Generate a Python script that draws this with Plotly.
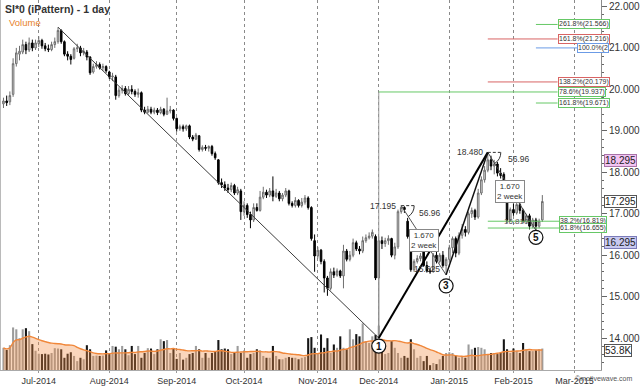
import pandas as pd
import plotly.graph_objects as go

FONT = "Liberation Sans, Arial, Helvetica, sans-serif"

# ---------------- data ----------------
holidays = ["2014-07-04", "2014-09-01", "2014-11-27", "2014-12-25",
            "2015-01-01", "2015-01-19", "2015-02-16"]
dates = pd.bdate_range("2014-06-16", "2015-02-13", freq="C", holidays=holidays)

month_ticks = ["2014-07-01", "2014-08-01", "2014-09-02", "2014-10-01", "2014-11-03",
               "2014-12-01", "2015-01-02", "2015-02-02", "2015-03-02"]
month_labels = ["Jul-2014", "Aug-2014", "Sep-2014", "Oct-2014", "Nov-2014",
                "Dec-2014", "Jan-2015", "Feb-2015", "Mar-2015"]

opens = [19.65,19.72,19.70,19.88,20.62,20.85,20.90,21.08,20.95,21.12,
         21.00,21.10,21.18,21.05,20.98,20.96,21.08,21.15,21.42,21.15,
         20.85,20.80,20.75,20.98,21.00,20.88,20.90,20.78,20.42,20.55,
         20.60,20.52,20.55,20.42,20.30,20.30,19.85,19.98,20.02,19.90,
         20.00,19.95,19.88,19.92,19.50,19.45,19.52,19.45,19.50,19.44,
         19.52,19.40,19.48,19.50,19.30,19.05,19.10,19.05,19.12,18.85,
         18.80,18.88,18.55,18.60,18.58,18.62,18.45,18.30,17.75,17.70,
         17.62,17.58,17.68,17.50,17.55,17.05,17.20,16.98,16.85,17.15,
         17.08,17.40,17.52,17.45,17.55,17.42,17.50,17.36,17.45,17.55,
         17.25,17.20,17.32,17.20,17.28,17.38,17.15,16.35,15.98,16.12,
         15.85,15.45,15.20,15.60,15.52,15.62,15.50,16.10,15.90,16.00,
         16.30,16.15,16.10,16.35,16.42,16.46,16.45,15.45,16.35,16.28,
         16.35,16.40,16.00,16.20,17.05,17.15,16.82,16.10,15.65,15.85,
         15.92,16.10,15.75,15.62,15.60,16.00,15.85,16.00,15.75,15.90,
         16.18,16.40,16.05,16.48,16.62,16.55,17.00,17.08,16.92,17.50,
         17.82,18.05,18.30,18.15,18.20,17.98,17.95,17.35,16.85,17.10,
         17.02,17.22,17.08,16.82,16.95,16.70,16.85,16.70,16.85]
highs = [19.80,19.85,19.95,20.75,21.00,21.05,21.20,21.15,21.25,21.20,
         21.20,21.28,21.22,21.12,21.08,21.15,21.25,21.50,21.45,21.18,
         20.92,20.85,21.02,21.10,21.05,21.00,20.95,20.80,20.62,20.68,
         20.65,20.62,20.58,20.45,20.40,20.35,20.05,20.10,20.08,20.08,
         20.10,20.00,20.02,19.95,19.58,19.60,19.58,19.56,19.55,19.58,
         19.55,19.80,19.60,19.52,19.32,19.15,19.15,19.15,19.15,18.90,
         18.95,18.90,18.65,18.66,18.65,18.66,18.50,18.32,17.85,17.78,
         17.72,17.75,17.72,17.65,17.60,17.30,17.25,17.05,17.25,17.25,
         17.55,17.65,17.58,17.62,17.90,17.60,17.55,17.50,17.62,17.58,
         17.30,17.40,17.35,17.38,17.45,17.42,17.18,16.50,16.20,16.15,
         15.90,15.50,15.68,15.70,15.68,15.65,16.25,16.15,16.10,16.40,
         16.35,16.22,16.45,16.50,16.55,16.62,16.50,16.45,16.45,16.42,
         16.48,16.42,16.30,17.10,17.195,17.18,16.90,16.15,15.90,16.00,
         16.05,16.15,15.85,15.70,16.05,16.08,16.05,16.10,15.95,16.25,
         16.45,16.45,16.55,16.75,16.70,17.05,17.15,17.12,17.60,17.90,
         18.15,18.48,18.40,18.30,18.25,18.10,18.00,17.40,17.15,17.25,
         17.30,17.28,17.12,17.00,17.00,16.90,16.90,16.88,17.45]
lows = [19.55,19.60,19.62,19.82,20.55,20.70,20.85,20.85,20.90,20.92,
        20.95,21.02,20.98,20.92,20.90,20.92,21.00,21.10,21.10,20.80,
        20.70,20.60,20.72,20.90,20.80,20.82,20.70,20.35,20.38,20.50,
        20.48,20.45,20.40,20.25,20.20,19.75,19.80,19.90,19.85,19.85,
        19.88,19.82,19.80,19.45,19.40,19.42,19.40,19.40,19.38,19.40,
        19.35,19.38,19.42,19.25,18.98,19.00,18.98,19.00,18.80,18.75,
        18.78,18.50,18.50,18.52,18.50,18.40,18.30,17.70,17.62,17.55,
        17.50,17.52,17.45,17.45,16.85,16.95,16.90,16.65,16.80,17.05,
        17.05,17.35,17.38,17.40,17.30,17.38,17.30,17.30,17.40,17.20,
        17.15,17.15,17.15,17.15,17.22,17.10,16.35,15.60,15.92,15.78,
        15.10,15.02,15.15,15.45,15.48,15.45,15.20,15.85,15.85,15.95,
        16.10,16.02,16.05,16.30,16.38,16.40,15.40,14.00,16.15,16.20,
        16.25,15.95,15.90,16.15,17.00,17.02,16.40,15.60,15.60,15.80,
        15.85,15.72,15.58,15.55,15.58,15.80,15.80,15.70,15.525,15.82,
        16.05,15.95,16.00,16.40,16.45,16.50,16.90,16.85,16.88,17.45,
        17.75,18.00,18.05,17.95,17.90,17.85,17.45,16.78,16.80,16.95,
        16.98,17.00,16.78,16.75,16.62,16.65,16.60,16.65,16.80]
closes = [19.72,19.68,19.85,20.62,20.88,20.92,21.08,20.95,21.12,21.00,
          21.12,21.18,21.05,20.98,20.96,21.08,21.15,21.42,21.15,20.85,
          20.80,20.72,20.98,21.00,20.88,20.92,20.78,20.40,20.55,20.60,
          20.52,20.55,20.45,20.30,20.32,19.85,19.98,20.02,19.90,20.00,
          19.95,19.88,19.92,19.50,19.45,19.52,19.45,19.50,19.44,19.52,
          19.40,19.48,19.50,19.30,19.05,19.10,19.05,19.12,18.85,18.80,
          18.90,18.55,18.60,18.58,18.62,18.45,18.35,17.75,17.70,17.62,
          17.58,17.68,17.50,17.58,17.05,17.20,16.98,16.85,17.15,17.08,
          17.40,17.52,17.45,17.55,17.42,17.50,17.36,17.45,17.55,17.25,
          17.20,17.32,17.20,17.28,17.38,17.15,16.40,15.98,16.12,15.85,
          15.45,15.20,15.60,15.52,15.62,15.50,16.10,15.90,16.00,16.30,
          16.15,16.10,16.35,16.42,16.46,16.55,15.45,16.35,16.28,16.35,
          16.40,16.00,16.20,17.05,17.15,17.10,16.45,15.65,15.85,15.92,
          15.98,15.75,15.62,15.60,16.00,15.85,16.00,15.75,15.90,16.18,
          16.40,16.05,16.48,16.62,16.55,17.00,17.08,16.92,17.50,17.82,
          18.05,18.30,18.15,18.20,17.98,17.92,17.50,16.85,17.10,17.02,
          17.22,17.08,16.82,16.95,16.70,16.85,16.70,16.82,17.295]
volume_k = [60,54,67,115,110,86,110,113,105,70,
            52,44,43,44,42,46,59,58,56,33,
            44,48,38,24,33,29,67,56,38,39,
            38,39,53,43,65,63,56,65,56,40,
            65,43,65,33,46,59,58,43,56,83,
            78,81,46,59,30,46,28,33,43,46,
            65,56,33,46,33,46,51,81,56,58,
            56,43,46,65,46,53,33,43,46,56,
            53,38,33,33,65,38,29,29,33,35,
            33,33,29,33,35,86,89,60,43,96,
            60,86,46,69,60,91,60,56,110,83,
            97,91,126,78,73,91,95,120,60,43,
            46,78,60,46,33,38,33,83,56,33,
            38,24,38,13,19,16,29,38,46,48,
            46,38,33,38,33,69,56,60,62,60,
            56,43,46,46,43,46,83,56,46,58,
            51,46,73,56,51,51,53,56,58]

# pattern pivots (indices into the bars)
IDX_A, IDX_1, IDX_B, IDX_3, IDX_2, IDX_5 = 17, 117, 124, 138, 151, 166

fib_labels = ["261.8%(21.566)", "161.8%(21.216)", "100.0%(2", "138.2%(20.179)",
              "78.6%(19.937)", "161.8%(19.671)", "38.2%(16.819)", "61.8%(16.655)"]
fib_values = [21.566, 21.216, 21.000, 20.179, 19.937, 19.671, 16.819, 16.655]
fib_colors = ["#66c866", "#d86464", "#6b9be6", "#d86464", "#66c866", "#66c866", "#66c866", "#66c866"]
fib_start = [IDX_5, IDX_2, IDX_5, IDX_2, IDX_1, IDX_5, IDX_2, IDX_2]
fib_label_x = (["2015-02-20 18:00"] * 2 + ["2015-03-02 20:00"] + ["2015-02-20 18:00"] * 3
               + ["2015-02-23 06:00"] * 2)
fib_full = [False] * 6 + [True, True]

price_tags = [("18.295", 18.295, "#f2c4f2", "#a873a8"),
              ("17.295", 17.295, "#ffffff", "#555555"),
              ("16.295", 16.295, "#c8c8f0", "#7b7bb8")]
angle_text = "56.96"

X_START, X_END = "2014-06-12 22:00", "2015-03-12 07:00"
Y_RANGE = [13.23, 22.156]

# ---------------- figure ----------------
x = list(dates)
assert len(x) == len(opens) == len(highs) == len(lows) == len(closes) == len(volume_k)

vol_ma = pd.Series(volume_k, dtype=float).rolling(20, min_periods=1).mean()
vol_colors = ["#9c9c9c" if c >= o else "#151515" for o, c in zip(opens, closes)]

fig = go.Figure()
fig.add_trace(go.Bar(x=x, y=volume_k, marker=dict(color=vol_colors, line=dict(width=0)),
                     yaxis="y", hoverinfo="skip"))
fig.add_trace(go.Scatter(x=x, y=vol_ma, mode="lines", yaxis="y",
                         line=dict(color="#f0873a", width=1.4, shape="spline"),
                         fill="tozeroy", fillcolor="rgba(240,140,70,0.36)", hoverinfo="skip"))
fig.add_trace(go.Candlestick(x=x, open=opens, high=highs, low=lows, close=closes, yaxis="y2",
                             whiskerwidth=0,
                             increasing=dict(line=dict(color="#6e6e6e", width=1), fillcolor="#e4e4e4"),
                             decreasing=dict(line=dict(color="#000000", width=1), fillcolor="#000000")))

shapes = []
def seg(i0, y0, i1, y1, color, width, dash="solid", yref="y2"):
    shapes.append(dict(type="line", xref="x", yref=yref, x0=i0, y0=y0, x1=i1, y1=y1,
                       line=dict(color=color, width=width, dash=dash)))

# left frame line
shapes.append(dict(type="line", xref="paper", yref="paper", x0=0, x1=0, y0=0, y1=1,
                   line=dict(color="#777", width=1)))

# fib levels
for lab, val, col, st, lx, full in zip(fib_labels, fib_values, fib_colors, fib_start, fib_label_x, fib_full):
    seg(x[st], val, X_END if full else lx, val, col, 1)

# vertical from pivot 1 up to 78.6% level
seg(x[IDX_1], lows[IDX_1], x[IDX_1], fib_values[4], "#999999", 1)
# pattern lines
seg(x[IDX_A], highs[IDX_A], x[IDX_1], lows[IDX_1], "#3c3c3c", 1)
seg(x[IDX_B], highs[IDX_B], x[IDX_3], lows[IDX_3], "#555555", 1)
seg(x[IDX_2], highs[IDX_2], x[IDX_5], lows[IDX_5], "#444444", 1)
seg(x[IDX_1], lows[IDX_1], x[IDX_2], highs[IDX_2], "#000000", 2)
seg(x[IDX_3], lows[IDX_3], x[IDX_2], highs[IDX_2], "#111111", 1.5)
seg(x[IDX_B], highs[IDX_B], x[IDX_B + 4], highs[IDX_B], "#333333", 1, "3px,2px")
seg(x[IDX_2], highs[IDX_2], x[IDX_2 + 4], highs[IDX_2], "#333333", 1, "3px,2px")

# angle arcs at the two tops (pixel-sized path anchored at the pivot, curving downward)
for idx in (IDX_B, IDX_2):
    shapes.append(dict(type="path", xref="x", yref="y2", xsizemode="pixel", ysizemode="pixel",
                       xanchor=x[idx], yanchor=highs[idx],
                       path="M 13,0 Q 13,-7 7,-11", line=dict(color="#333", width=1)))

annotations = []
# pivot circles
for idx, lab, off in [(IDX_1, "1", -8), (IDX_3, "3", -11), (IDX_5, "5", -7)]:
    shapes.append(dict(type="circle", xref="x", yref="y2", xsizemode="pixel", ysizemode="pixel",
                       xanchor=x[idx], yanchor=lows[idx], x0=-7, x1=7, y0=off - 7, y1=off + 7,
                       fillcolor="white", line=dict(color="#111", width=1.2)))
    annotations.append(dict(x=x[idx], y=lows[idx], xref="x", yref="y2", text="<b>%s</b>" % lab,
                            showarrow=False, yshift=off, font=dict(size=10, color="#111", family=FONT)))

# fib boxes
for lab, val, col, lx in zip(fib_labels, fib_values, fib_colors, fib_label_x):
    annotations.append(dict(x=lx, y=val, xref="x", yref="y2", text=lab, showarrow=False,
                            xanchor="left", yanchor="middle", bgcolor="white", bordercolor=col,
                            borderwidth=1, borderpad=0, font=dict(size=7, color="#333", family=FONT)))

# price labels at pivots
txt = dict(size=8.5, color="#333", family=FONT)
annotations += [
    dict(x=x[IDX_B], y=highs[IDX_B], xref="x", yref="y2", text="17.195", showarrow=False,
         xanchor="right", xshift=-3, font=txt),
    dict(x=x[IDX_2], y=highs[IDX_2], xref="x", yref="y2", text="18.480", showarrow=False,
         xanchor="right", xshift=-3, font=txt),
    dict(x=x[IDX_3], y=lows[IDX_3], xref="x", yref="y2", text="15.525", showarrow=False,
         xanchor="right", xshift=-4, yshift=6, font=txt),
    dict(x=x[IDX_B + 4], y=highs[IDX_B], xref="x", yref="y2", text=angle_text, showarrow=False,
         xanchor="left", xshift=3, yshift=-7, font=txt),
    dict(x=x[IDX_2 + 4], y=highs[IDX_2], xref="x", yref="y2", text=angle_text, showarrow=False,
         xanchor="left", xshift=5, yshift=-7, font=txt),
    dict(x=x[160], y=16.81, xref="x", yref="y2", text="16.810", showarrow=False,
         font=dict(size=8, color="#555", family=FONT)),
]
for i0, y0, i1, y1 in [(IDX_B, highs[IDX_B], IDX_3, lows[IDX_3]), (IDX_2, highs[IDX_2], IDX_5, lows[IDX_5])]:
    annotations.append(dict(x=x[(i0 + i1) // 2], y=(y0 + y1) / 2, xref="x", yref="y2",
                            text="1.670<br>2 week", showarrow=False, bgcolor="white",
                            bordercolor="#888", borderwidth=1, borderpad=1,
                            font=dict(size=8, color="#333", family=FONT)))

# right-hand tags
for t, v, bg, bc in price_tags:
    annotations.append(dict(x=1, y=v, xref="paper", yref="y2", text=t, showarrow=False,
                            xanchor="left", xshift=3, bgcolor=bg, bordercolor=bc, borderwidth=1,
                            borderpad=0, font=dict(size=10, color="#222", family=FONT)))
annotations.append(dict(x=1, y=53.8, xref="paper", yref="y", text="53.8K", showarrow=False,
                        xanchor="left", xshift=3, bgcolor="white", bordercolor="#555", borderwidth=1,
                        borderpad=0, font=dict(size=10, color="#222", family=FONT)))

# titles / watermark
annotations += [
    dict(x=0, y=1, xref="paper", yref="paper", xanchor="left", yanchor="top", xshift=3, yshift=-1,
         text="<b>SI*0 (iPattern) - 1 day</b>", showarrow=False,
         font=dict(size=10.5, color="#333", family=FONT)),
    dict(x=0, y=1, xref="paper", yref="paper", xanchor="left", yanchor="top", xshift=7, yshift=-15,
         text="Volume", showarrow=False, font=dict(size=9.5, color="#e8822a", family=FONT)),
    dict(x=1, y=0, xref="paper", yref="paper", xanchor="right", yanchor="top", xshift=33, yshift=-3,
         text="©motivewave.com", showarrow=False, font=dict(size=7, color="#555", family=FONT)),
]

fig.update_layout(
    width=640, height=386, margin=dict(l=0, r=33, t=0, b=14),
    paper_bgcolor="white", plot_bgcolor="white", showlegend=False, bargap=0.35,
    font=dict(family=FONT, size=10, color="#333"),
    shapes=shapes, annotations=annotations,
    xaxis=dict(type="date", range=[X_START, X_END],
               rangebreaks=[dict(bounds=["sat", "mon"]), dict(values=holidays)],
               rangeslider=dict(visible=False), tickmode="array", tickvals=month_ticks,
               ticktext=month_labels, showgrid=True, gridcolor="#8a8a8a", griddash="3px,3px",
               gridwidth=1, showline=True, linecolor="#aaaaaa", ticks="outside", ticklen=2,
               tickcolor="#999", tickfont=dict(size=9, color="#333", family=FONT), zeroline=False),
    yaxis=dict(range=[0, 1000], visible=False, fixedrange=True),
    yaxis2=dict(overlaying="y", side="right", range=Y_RANGE, tick0=0, dtick=1,
                tickformat=".3f", showgrid=False, zeroline=False, showline=True, linecolor="#8c8c8c",
                ticks="outside", ticklen=5, tickcolor="#666",
                minor=dict(dtick=0.2, ticks="outside", ticklen=2, tickcolor="#666", showgrid=False),
                tickfont=dict(size=10, color="#333", family=FONT)),
)

fig.write_html("out.html")
